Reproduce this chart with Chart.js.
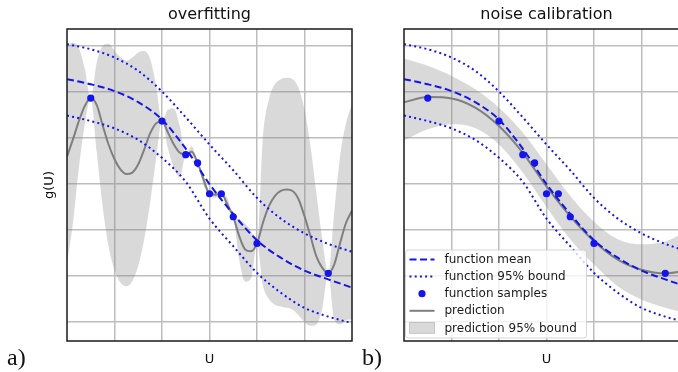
<!DOCTYPE html>
<html><head><meta charset="utf-8">
<script src="https://cdn.jsdelivr.net/npm/chart.js@4.4.0/dist/chart.umd.min.js"></script>
<style>
html,body{margin:0;padding:0;background:#fff;}
#wrap{position:relative;width:678px;height:372px;overflow:hidden;background:#fff;}
canvas{position:absolute;top:0;}
#c1{left:0;} #c2{left:337px;}
.lab{position:absolute;font-family:"Liberation Serif","DejaVu Serif",serif;font-size:24px;line-height:24px;color:#111;}
</style></head><body>
<div id="wrap">
<canvas id="c1" width="370" height="372"></canvas>
<canvas id="c2" width="370" height="372"></canvas>
<div class="lab" style="left:7px;top:345px">a)</div>
<div class="lab" style="left:362px;top:345px">b)</div>
</div>
<script>
// ---------- data ----------
const xTicks = [-2, -1, 0, 1, 2];
const yTicks = [-3, -2, -1, 0, 1, 2, 3];
const titles = ['overfitting', 'noise calibration'];
const xLabel = 'U';
const yLabel = 'g(U)';
const legendLabels = ['function mean', 'function 95% bound', 'function samples', 'prediction', 'prediction 95% bound'];

// true function (shared by both panels)
const curveX     = [-3, -2.5, -2, -1.5, -1, -0.5, 0, 0.5, 1, 1.5, 2, 2.5, 3];
const funcMean   = [2.28, 2.17, 2.02, 1.78, 1.40, 0.77, 0.0, -0.65, -1.22, -1.60, -1.88, -2.07, -2.25];
const funcUpper  = [3.04, 2.93, 2.75, 2.46, 2.01, 1.45, 0.86, 0.30, -0.30, -0.75, -1.07, -1.30, -1.47];
const funcLower  = [1.49, 1.37, 1.21, 0.96, 0.57, 0.05, -0.75, -1.35, -1.93, -2.36, -2.69, -2.88, -3.02];

// samples
const sampleX = [-2.5, -1, -0.5, -0.25, 0, 0.25, 0.5, 1, 2.5];
const sampleY = [1.87, 1.37, 0.64, 0.46, -0.21, -0.21, -0.71, -1.29, -1.94];

// panel a) overfitting prediction
const overX = [-3, -2.875, -2.75, -2.625, -2.5, -2.375, -2.25, -2.125, -2, -1.875, -1.75, -1.625, -1.5, -1.375, -1.25, -1.125,
  -1, -0.875, -0.75, -0.625, -0.5, -0.375, -0.25, -0.125, 0, 0.125, 0.25, 0.375, 0.5, 0.625, 0.75, 0.875,
  1, 1.125, 1.25, 1.375, 1.5, 1.625, 1.75, 1.875, 2, 2.125, 2.25, 2.375, 2.5, 2.625, 2.75, 2.875, 3];
const overPred = [0.60, 0.97, 1.37, 1.70, 1.87, 1.72, 1.28, 0.86, 0.54, 0.32, 0.22, 0.25, 0.43, 0.75, 1.10, 1.32,
  1.37, 1.12, 0.86, 0.68, 0.64, 0.70, 0.46, 0.10, -0.21, -0.23, -0.21, -0.44, -0.71, -1.13, -1.42, -1.46,
  -1.29, -0.84, -0.48, -0.26, -0.15, -0.12, -0.15, -0.33, -0.70, -1.13, -1.57, -1.82, -1.94, -1.75, -1.28, -0.84, -0.58];
const overUpper = [3.00, 3.07, 2.95, 2.50, 1.87, 2.64, 3.00, 3.05, 2.90, 2.76, 2.68, 2.75, 2.86, 2.89, 2.72, 2.15,
  1.37, 1.62, 1.64, 1.25, 0.64, 0.82, 0.46, 0.20, -0.21, -0.16, -0.21, -0.30, -0.71, -0.77, -0.86, -1.02,
  -1.29, 1.04, 1.84, 2.17, 2.28, 2.31, 2.28, 2.09, 1.62, 0.83, -0.19, -1.20, -1.94, -0.62, 0.61, 1.33, 1.73];
const overLower = [-1.72, -0.85, 0.35, 1.30, 1.87, 0.70, -0.48, -1.35, -1.86, -2.14, -2.22, -2.11, -1.78, -1.20, -0.40, 0.55,
  1.37, 0.78, 0.35, 0.15, 0.64, 0.58, 0.46, -0.02, -0.21, -0.30, -0.21, -0.55, -0.71, -1.64, -2.12, -2.05,
  -1.29, -2.20, -2.50, -2.62, -2.66, -2.69, -2.73, -2.85, -3.00, -3.08, -3.05, -2.70, -1.94, -2.94, -3.05, -2.96, -2.94];

// panel b) noise calibration prediction
const calX     = [-3, -2.5, -2, -1.5, -1, -0.5, 0, 0.5, 1, 1.5, 2, 2.5, 3];
const calPred  = [1.78, 1.89, 1.86, 1.66, 1.26, 0.68, -0.05, -0.70, -1.24, -1.64, -1.86, -1.94, -1.86];
const calUpper = [2.73, 2.57, 2.35, 2.06, 1.66, 1.12, 0.43, -0.26, -0.82, -1.20, -1.31, -1.25, -1.00];
const calLower = [0.95, 1.19, 1.30, 1.22, 0.86, 0.25, -0.50, -1.20, -1.75, -2.22, -2.51, -2.69, -2.83];

// ---------- styling ----------
const FONT = '"DejaVu Sans", Verdana, sans-serif';
const BLUE = 'rgb(20,20,235)';
const GRAY = '#7f7f7f';
const BAND = 'rgba(128,128,128,0.30)';
const GRID = '#bdbdbd';
const DASH = [7, 3.5];
const DOT = [2, 3.2];

const pts = (xs, ys) => xs.map((x, i) => ({x, y: ys[i]}));

function datasets(px, pred, up, lo) {
  return [
    {label: legendLabels[2], data: pts(sampleX, sampleY), showLine: false, pointRadius: 3.6,
     pointBackgroundColor: BLUE, pointBorderWidth: 0},
    {label: legendLabels[0], data: pts(curveX, funcMean), borderColor: BLUE, borderWidth: 2,
     borderDash: DASH, pointRadius: 0, cubicInterpolationMode: 'monotone', fill: false},
    {label: legendLabels[1], data: pts(curveX, funcUpper), borderColor: BLUE, borderWidth: 2,
     borderDash: DOT, pointRadius: 0, cubicInterpolationMode: 'monotone', fill: false},
    {label: legendLabels[1], data: pts(curveX, funcLower), borderColor: BLUE, borderWidth: 2,
     borderDash: DOT, pointRadius: 0, cubicInterpolationMode: 'monotone', fill: false},
    {label: legendLabels[3], data: pts(px, pred), borderColor: GRAY, borderWidth: 2,
     pointRadius: 0, cubicInterpolationMode: 'monotone', fill: false},
    {label: legendLabels[4], data: pts(px, up), borderWidth: 0, borderColor: 'rgba(0,0,0,0)',
     backgroundColor: BAND, pointRadius: 0, cubicInterpolationMode: 'monotone', fill: '+1'},
    {label: legendLabels[4] + ' lo', data: pts(px, lo), borderWidth: 0, borderColor: 'rgba(0,0,0,0)',
     pointRadius: 0, cubicInterpolationMode: 'monotone', fill: false}
  ];
}

const framePlugin = {
  id: 'frame',
  afterDatasetsDraw(chart) {
    const {ctx, chartArea: a} = chart;
    ctx.save();
    ctx.strokeStyle = '#1a1a1a';
    ctx.lineWidth = 1.5;
    ctx.strokeRect(a.left, a.top, a.right - a.left, a.bottom - a.top);
    ctx.restore();
  }
};

const boxLegend = {
  id: 'boxLegend',
  afterDraw(chart, args, opts) {
    if (!opts.show) return;
    const {ctx, chartArea: a} = chart;
    const w = 181, h = 88;
    const x0 = a.left + 1.5, y0 = a.bottom - 3 - h;
    ctx.save();
    ctx.beginPath();
    ctx.roundRect(x0, y0, w, h, 3);
    ctx.fillStyle = 'rgba(255,255,255,0.8)';
    ctx.fill();
    ctx.strokeStyle = 'rgba(204,204,204,0.8)';
    ctx.lineWidth = 1;
    ctx.stroke();
    const kinds = ['dash', 'dot', 'point', 'line', 'patch'];
    ctx.font = '12px ' + FONT;
    ctx.textBaseline = 'middle';
    kinds.forEach((k, i) => {
      const cy = y0 + 9.5 + i * 17.1;
      const hx0 = x0 + 4, hx1 = x0 + 29;
      ctx.save();
      if (k === 'dash' || k === 'dot' || k === 'line') {
        ctx.beginPath();
        ctx.setLineDash(k === 'dash' ? DASH : k === 'dot' ? DOT : []);
        ctx.strokeStyle = k === 'line' ? GRAY : BLUE;
        ctx.lineWidth = 2;
        ctx.moveTo(hx0, cy); ctx.lineTo(hx1, cy);
        ctx.stroke();
      } else if (k === 'point') {
        ctx.beginPath();
        ctx.fillStyle = BLUE;
        ctx.arc((hx0 + hx1) / 2, cy, 3.6, 0, Math.PI * 2);
        ctx.fill();
      } else {
        ctx.fillStyle = BAND;
        ctx.fillRect(hx0, cy - 5.5, hx1 - hx0, 11);
        ctx.strokeStyle = 'rgba(128,128,128,0.35)';
        ctx.lineWidth = 1;
        ctx.strokeRect(hx0, cy - 5.5, hx1 - hx0, 11);
      }
      ctx.restore();
      ctx.fillStyle = '#1a1a1a';
      ctx.fillText(legendLabels[i], x0 + 39, cy + 0.5);
    });
    ctx.restore();
  }
};

function makeChart(id, title, ds, showY, showLegend) {
  return new Chart(document.getElementById(id), {
    type: 'line',
    data: {datasets: ds},
    plugins: [framePlugin, boxLegend],
    options: {
      responsive: false, animation: false, devicePixelRatio: 1,
      layout: {padding: {left: 0, right: 18, top: 0, bottom: 0}},
      plugins: {
        legend: {display: false},
        tooltip: {enabled: false},
        title: {display: true, text: title, fullSize: false, color: '#111',
                font: {family: FONT, size: 16, weight: 'normal'}, padding: {top: 5.4, bottom: 4.4}},
        boxLegend: {show: showLegend}
      },
      scales: {
        x: {
          type: 'linear', min: -3, max: 3,
          afterBuildTicks: s => { s.ticks = xTicks.map(v => ({value: v})); },
          afterFit: s => { s.height = 31; },
          ticks: {display: false},
          grid: {color: GRID, lineWidth: 1.5, drawTicks: false},
          border: {display: false},
          title: {display: true, text: xLabel, color: '#111', font: {family: FONT, size: 13},
                  padding: {top: 0, bottom: 5}}
        },
        y: {
          type: 'linear', min: -3.41, max: 3.37,
          afterBuildTicks: s => { s.ticks = yTicks.map(v => ({value: v})); },
          afterFit: s => { s.width = 67; },
          ticks: {display: false},
          grid: {color: GRID, lineWidth: 1.5, drawTicks: false},
          border: {display: false},
          title: {display: showY, text: yLabel, color: '#111', font: {family: FONT, size: 13},
                  padding: {top: 42, bottom: 0}}
        }
      }
    }
  });
}

makeChart('c1', titles[0], datasets(overX, overPred, overUpper, overLower), true, false);
makeChart('c2', titles[1], datasets(calX, calPred, calUpper, calLower), false, true);
</script>
</body></html>
